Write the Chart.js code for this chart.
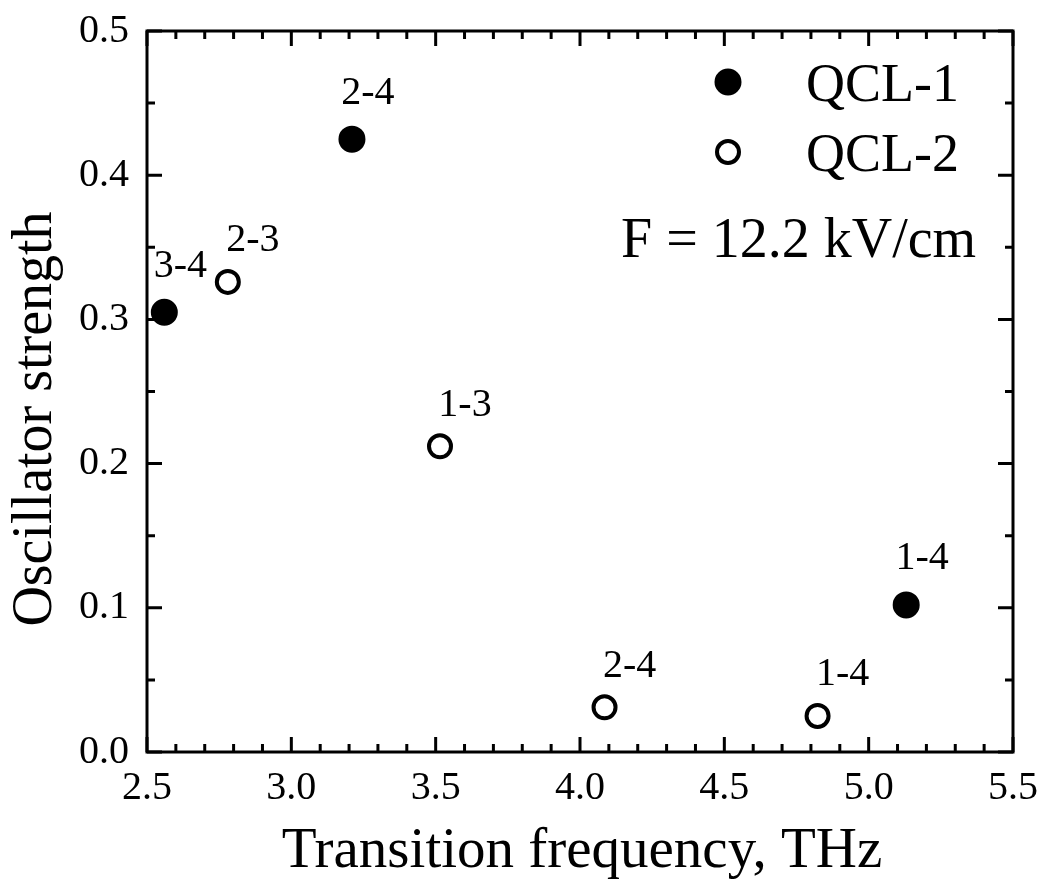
<!DOCTYPE html>
<html><head><meta charset="utf-8">
<script src="https://cdn.jsdelivr.net/npm/chart.js@4/dist/chart.umd.min.js"></script>
<style>html,body{margin:0;padding:0;background:#fff}#wrap{width:1040px;height:879px}</style>
</head><body><div id="wrap"><canvas id="c" width="1040" height="879"></canvas></div>
<script>
// ---- data ----
const qcl1Freq = [2.56, 3.21, 5.13];
const qcl1Osc  = [0.305, 0.425, 0.102];
const qcl1Labels = ['3-4', '2-4', '1-4'];
const qcl2Freq = [2.78, 3.515, 4.085, 4.823];
const qcl2Osc  = [0.326, 0.212, 0.031, 0.025];
const qcl2Labels = ['2-3', '1-3', '2-4', '1-4'];
const xTicks = [2.5, 3.0, 3.5, 4.0, 4.5, 5.0, 5.5];
const yTicks = [0.0, 0.1, 0.2, 0.3, 0.4, 0.5];
const seriesNames = ['QCL-1', 'QCL-2'];
const annotationText = 'F = 12.2 kV/cm';
const xTitle = 'Transition frequency, THz';
const yTitle = 'Oscillator strength';

const FONT = '"Liberation Serif", "Times New Roman", serif';

function pts(xs, ys) { return xs.map((x, i) => ({x: x, y: ys[i]})); }

const decor = {
  id: 'decor',
  afterDatasetsDraw(chart) {
    const ctx = chart.ctx, xs = chart.scales.x, ys = chart.scales.y;
    const L = xs.left, R = xs.right, T = ys.top, B = ys.bottom;
    ctx.save();
    ctx.strokeStyle = '#000'; ctx.lineWidth = 3; ctx.lineCap = 'butt';
    ctx.strokeRect(L, T, R - L, B - T);
    for (let k = 0; k <= 30; k++) {
      const px = xs.getPixelForValue(xTicks[0] + k * 0.1);
      const len = (k % 5 === 0) ? 15 : 8;
      ctx.beginPath();
      ctx.moveTo(px, B); ctx.lineTo(px, B - len);
      ctx.moveTo(px, T); ctx.lineTo(px, T + len);
      ctx.stroke();
    }
    for (let k = 0; k <= 10; k++) {
      const py = ys.getPixelForValue(yTicks[0] + k * 0.05);
      const len = (k % 2 === 0) ? 15 : 8;
      ctx.beginPath();
      ctx.moveTo(L, py); ctx.lineTo(L + len, py);
      ctx.moveTo(R, py); ctx.lineTo(R - len, py);
      ctx.stroke();
    }
    // point labels
    ctx.fillStyle = '#000';
    ctx.font = '40px ' + FONT;
    ctx.textAlign = 'center'; ctx.textBaseline = 'middle';
    const sets = [[qcl1Freq, qcl1Osc, qcl1Labels, 16, -46], [qcl2Freq, qcl2Osc, qcl2Labels, 25, -41]];
    sets.forEach(([fx, fy, lb, dx, dy]) => {
      fx.forEach((f, i) => {
        ctx.fillText(lb[i], xs.getPixelForValue(f) + dx, ys.getPixelForValue(fy[i]) + dy);
      });
    });
    // legend
    const lx = 728, ly = [82, 152];
    chart.data.datasets.forEach((ds, i) => {
      ctx.beginPath();
      ctx.arc(lx, ly[i], ds.pointRadius, 0, Math.PI * 2);
      ctx.fillStyle = ds.pointBackgroundColor;
      ctx.fill();
      ctx.lineWidth = ds.pointBorderWidth; ctx.strokeStyle = '#000';
      ctx.stroke();
      ctx.fillStyle = '#000';
      ctx.font = '54px ' + FONT;
      ctx.textAlign = 'left'; ctx.textBaseline = 'alphabetic';
      ctx.fillText(ds.label, 806, ly[i] + 19);
    });
    ctx.font = '56px ' + FONT;
    ctx.textAlign = 'left'; ctx.textBaseline = 'alphabetic';
    ctx.fillText(annotationText, 621, 257);
    // axis titles
    ctx.font = '57px ' + FONT;
    ctx.textAlign = 'center';
    ctx.fillText(xTitle, (L + R) / 2 + 2, 867);
    ctx.save();
    ctx.translate(51, 419);
    ctx.rotate(-Math.PI / 2);
    ctx.font = '56px ' + FONT;
    ctx.fillText(yTitle, 0, 0);
    ctx.restore();
    ctx.restore();
  }
};

new Chart(document.getElementById('c'), {
  type: 'scatter',
  data: {
    datasets: [
      {label: seriesNames[0], data: pts(qcl1Freq, qcl1Osc), pointRadius: 12, pointBorderWidth: 3,
       pointBackgroundColor: '#000', pointBorderColor: '#000', pointHoverRadius: 12},
      {label: seriesNames[1], data: pts(qcl2Freq, qcl2Osc), pointRadius: 11, pointBorderWidth: 4,
       pointBackgroundColor: '#fff', pointBorderColor: '#000', pointHoverRadius: 11}
    ]
  },
  options: {
    responsive: false, animation: false, devicePixelRatio: 1,
    layout: {padding: {top: 31, right: 27, left: 0, bottom: 0}},
    plugins: {legend: {display: false}, tooltip: {enabled: false}},
    scales: {
      x: {
        type: 'linear', min: xTicks[0], max: xTicks[xTicks.length - 1],
        afterBuildTicks: s => { s.ticks = xTicks.map(v => ({value: v})); },
        afterFit: s => { s.height = 127; s.paddingLeft = 0; s.paddingRight = 0; },
        grid: {display: false, drawTicks: false},
        border: {display: false},
        ticks: {color: '#000', padding: 12, maxRotation: 0, font: {family: FONT, size: 40}, callback: v => v.toFixed(1)},
        title: {display: false}
      },
      y: {
        type: 'linear', min: yTicks[0], max: yTicks[yTicks.length - 1],
        afterBuildTicks: s => { s.ticks = yTicks.map(v => ({value: v})); },
        afterFit: s => { s.width = 147; s.paddingTop = 0; s.paddingBottom = 0; },
        grid: {display: false, drawTicks: false},
        border: {display: false},
        ticks: {color: '#000', padding: 18, font: {family: FONT, size: 40}, callback: v => v.toFixed(1)},
        title: {display: false}
      }
    }
  },
  plugins: [decor]
});
</script></body></html>
